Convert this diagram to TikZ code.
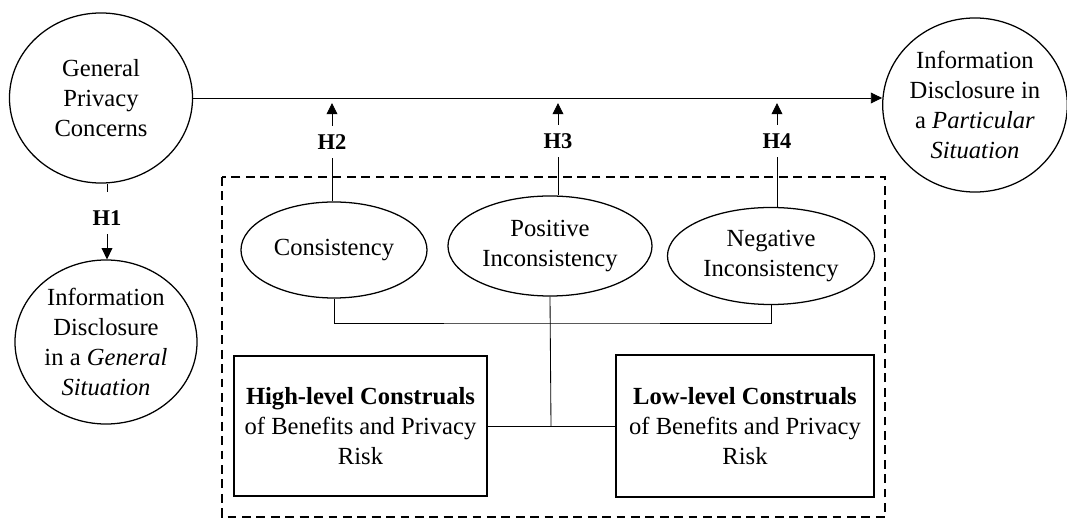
\documentclass[tikz,border=0pt]{standalone}
\usepackage{fontspec}
\setmainfont{Liberation Serif}
\usetikzlibrary{positioning,arrows.meta,shapes.geometric}

\begin{document}
\begin{tikzpicture}[x=.025cm,y=.025cm,
    construct/.style={draw,ellipse,line width=.9pt,inner sep=0pt,align=center,font=\fontsize{17.5}{21.5}\selectfont},
    construal/.style={draw,rectangle,line width=1.1pt,inner sep=0pt,minimum width=6.325cm,minimum height=3.5cm,align=center,font=\fontsize{17.5}{21.5}\selectfont},
    hyplabel/.style={inner sep=0pt,minimum height=.8cm,font=\fontsize{16}{18}\selectfont\bfseries},
    link/.style={line width=.6pt},
    hyparrow/.style={line width=.6pt,-{Triangle[length=.28cm,width=.27cm]}}]
    \useasboundingbox (0,0) rectangle (1067,519);
    % outer constructs
    \node[construct,minimum width=4.575cm,minimum height=4.25cm] (gpc) at (101,421) {General\\Privacy\\Concerns};
    \node[construct,minimum width=4.55cm,minimum height=4.35cm] (idp) at (975,414) {Information\\Disclosure in\\a \textit{Particular}\\\textit{Situation}};
    \node[construct,minimum width=4.55cm,minimum height=4.1cm] (idg) at (106,177) {Information\\Disclosure\\in a \textit{General}\\\textit{Situation}};
    % moderators
    \node[construct,minimum width=4.65cm,minimum height=2.4cm] (cons) at (334,269) {Consistency};
    \node[construct,minimum width=5.1cm,minimum height=2.5cm] (posinc) at (550,273) {Positive\\Inconsistency};
    \node[construct,minimum width=5.175cm,minimum height=2.425cm] (neginc) at (771,263) {Negative\\Inconsistency};
    \node[construal] (high) at (360.5,93) {\textbf{High-level Construals}\\of Benefits and Privacy\\Risk};
    \node[construal,minimum width=6.45cm,minimum height=3.55cm] (low) at (745,93) {\textbf{Low-level Construals}\\of Benefits and Privacy\\Risk};
    \draw[line width=1.2pt,dash pattern=on .22cm off .14cm] (222,342) rectangle (885,2);
    % hypothesis labels
    \node[hyplabel] (h1) at (107,301) {H1};
    \node[hyplabel] (h2) at (332,377) {H2};
    \node[hyplabel] (h3) at (558,378) {H3};
    \node[hyplabel] (h4) at (777,378) {H4};
    \coordinate (t2) at (332,416);
    \coordinate (t3) at (558,416);
    \coordinate (t4) at (777,416);
    \coordinate (bar) at (551,196);
    \coordinate (join) at (551,93);
    % main path
    \draw[hyparrow] (gpc.east) -- (gpc.east -| idp.west);
    \draw[link,shorten >=.25cm] (gpc.south -| h1.north) -- (h1.north);
    \draw[hyparrow] (h1) -- (h1 |- idg.north);
    \foreach \h/\m in {h2/cons,h3/posinc,h4/neginc}{
      \draw[link] (\h.south) -- (\h.south |- \m.north);
    }
    \draw[hyparrow] (h2) -- (t2);
    \draw[hyparrow] (h3) -- (t3);
    \draw[hyparrow] (h4) -- (t4);
    % construal level links
    \draw[link] (cons.south) |- (bar) -| (neginc.south);
    \draw[link] (posinc.south) -- (join);
    \draw[link] (high) -- (low);
\end{tikzpicture}
\end{document}
